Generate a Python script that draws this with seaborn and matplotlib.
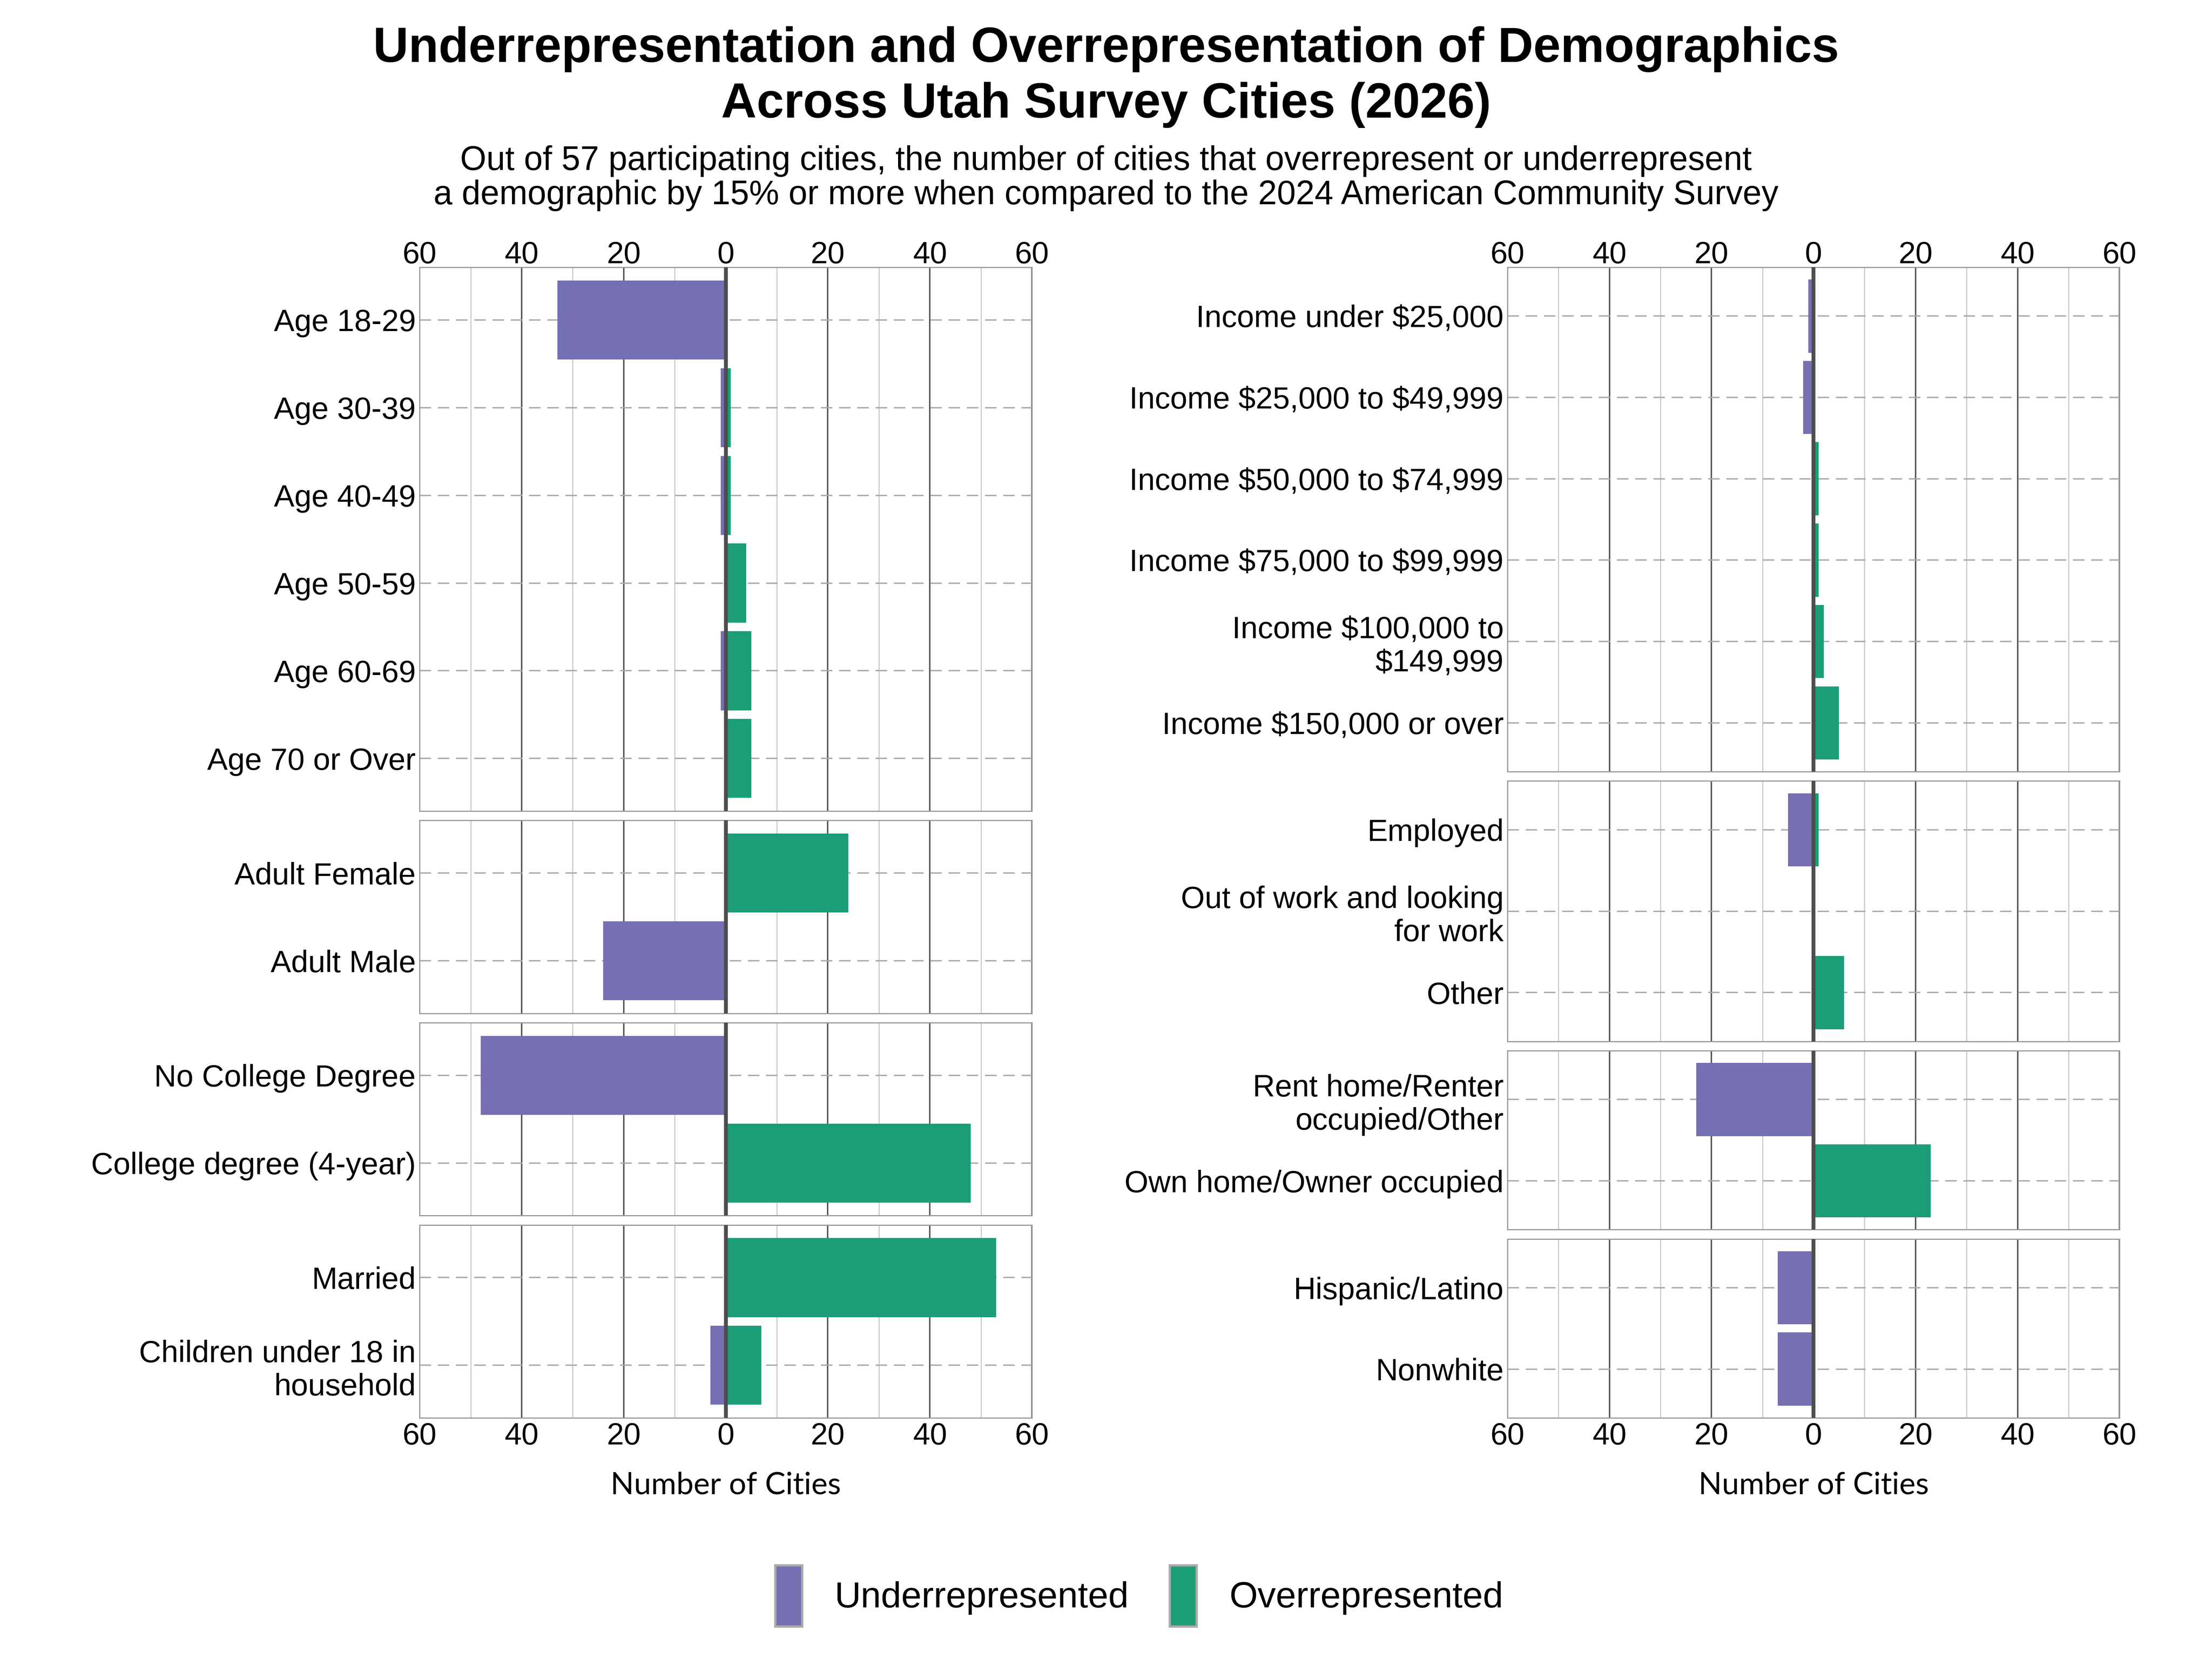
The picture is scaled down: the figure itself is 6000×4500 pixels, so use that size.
import numpy as np
import pandas as pd
import matplotlib
matplotlib.use("Agg")
import matplotlib.pyplot as plt
import seaborn as sns
from matplotlib.patches import Patch
from matplotlib.ticker import MultipleLocator, FixedLocator, FixedFormatter

sns.set_theme(style="white")
plt.rcParams["font.family"] = ["Liberation Sans", "DejaVu Sans"]
plt.rcParams["lines.scale_dashes"] = False
plt.rcParams["text.parse_math"] = False
plt.rcParams["text.color"] = "black"
plt.rcParams["axes.labelcolor"] = "black"
plt.rcParams["xtick.color"] = "black"
plt.rcParams["ytick.color"] = "black"

# ---------------- data ----------------
age_cats = ["Age 18-29", "Age 30-39", "Age 40-49", "Age 50-59", "Age 60-69", "Age 70 or Over"]
age_under = [33, 1, 1, 0, 1, 0]
age_over = [0, 1, 1, 4, 5, 5]

sex_cats = ["Adult Female", "Adult Male"]
sex_under = [0, 24]
sex_over = [24, 0]

edu_cats = ["No College Degree", "College degree (4-year)"]
edu_under = [48, 0]
edu_over = [0, 48]

hh_cats = ["Married", "Children under 18 in\nhousehold"]
hh_under = [0, 3]
hh_over = [53, 7]

inc_cats = ["Income under $25,000", "Income $25,000 to $49,999", "Income $50,000 to $74,999",
            "Income $75,000 to $99,999", "Income $100,000 to\n$149,999", "Income $150,000 or over"]
inc_under = [1, 2, 0, 0, 0, 0]
inc_over = [0, 0, 1, 1, 2, 5]

emp_cats = ["Employed", "Out of work and looking\nfor work", "Other"]
emp_under = [5, 0, 0]
emp_over = [1, 0, 6]

home_cats = ["Rent home/Renter\noccupied/Other", "Own home/Owner occupied"]
home_under = [23, 0]
home_over = [0, 23]

eth_cats = ["Hispanic/Latino", "Nonwhite"]
eth_under = [7, 7]
eth_over = [0, 0]

series_names = ["Underrepresented", "Overrepresented"]
series_colors = ["#7570B3", "#1B9E77"]
x_ticks = [-60, -40, -20, 0, 20, 40, 60]
x_tick_labels = ["60", "40", "20", "0", "20", "40", "60"]

title = "Underrepresentation and Overrepresentation of Demographics\nAcross Utah Survey Cities (2026)"
subtitle = ("Out of 57 participating cities, the number of cities that overrepresent or underrepresent\n"
            "a demographic by 15% or more when compared to the 2024 American Community Survey")
x_label = "Number of Cities"

left_panels = [(age_cats, age_under, age_over), (sex_cats, sex_under, sex_over),
               (edu_cats, edu_under, edu_over), (hh_cats, hh_under, hh_over)]
right_panels = [(inc_cats, inc_under, inc_over), (emp_cats, emp_under, emp_over),
                (home_cats, home_under, home_over), (eth_cats, eth_under, eth_over)]

# ---------------- figure ----------------
fig = plt.figure(figsize=(16, 12), dpi=375)
fig.patch.set_facecolor("white")

TOP, BOTTOM, GAP = 0.8389, 0.1453, 0.0056
columns = [(0.1897, 0.4665, left_panels), (0.6815, 0.9582, right_panels)]
FS = 16

for x0, x1, panels in columns:
    units = [len(p[0]) + 0.2 for p in panels]
    unit = (TOP - BOTTOM - GAP * (len(panels) - 1)) / sum(units)
    ytop = TOP
    for i, (cats, under, over) in enumerate(panels):
        h = units[i] * unit
        ax = fig.add_axes([x0, ytop - h, x1 - x0, h])
        ytop -= h + GAP
        df = pd.DataFrame({
            "category": cats * 2,
            "value": [-v for v in under] + list(over),
            "series": [series_names[0]] * len(cats) + [series_names[1]] * len(cats),
        })
        for s, c in zip(series_names, series_colors):
            sns.barplot(data=df[df["series"] == s], x="value", y="category", order=cats,
                        color=c, width=0.9, errorbar=None, orient="h", linewidth=0,
                        saturation=1, ax=ax)
        n = len(cats)
        ax.set_ylim(n - 1 + 0.6, -0.6)
        ax.set_xlim(-60, 60)
        ax.xaxis.set_major_locator(FixedLocator(x_ticks))
        ax.xaxis.set_major_formatter(FixedFormatter(x_tick_labels))
        ax.xaxis.set_minor_locator(MultipleLocator(10))
        ax.set_axisbelow(True)
        ax.xaxis.grid(True, which="major", color="#555555", lw=0.75)
        ax.xaxis.grid(True, which="minor", color="#c4c4c4", lw=0.5)
        ax.yaxis.grid(True, which="major", color="#a8a8a8", lw=0.7, linestyle=(0, (6, 3.5)))
        ax.axvline(0, color="#4d4d4d", lw=2.0, zorder=4)
        for sp in ax.spines.values():
            sp.set_color("#999999")
            sp.set_linewidth(0.6)
        ax.set_ylabel("")
        ax.set_xlabel("")
        ax.tick_params(axis="y", length=0, pad=2, labelsize=FS, labelcolor="black")
        ax.tick_params(axis="x", which="both", length=0, labelsize=FS, labelcolor="black")
        if i == 0:
            ax.tick_params(axis="x", top=True, labeltop=True, bottom=False, labelbottom=False, pad=-1.2)
        elif i == len(panels) - 1:
            ax.tick_params(axis="x", top=False, labeltop=False, bottom=True, labelbottom=True, pad=2)
            ax.set_xlabel(x_label, fontsize=16, family=["Lato", "DejaVu Sans"], color="black")
            ax.xaxis.set_label_coords(0.5, (0.1046 - (ytop + GAP)) / h)
            ax.xaxis.label.set_va("center")
        else:
            ax.tick_params(axis="x", labeltop=False, labelbottom=False)

fig.text(0.5, 0.9535, title, ha="center", va="center", fontsize=25.6, fontweight="bold",
         linespacing=1.27, color="black")
fig.text(0.5, 0.8925, subtitle, ha="center", va="center", fontsize=17.6, linespacing=1.1,
         color="black")

handles = [Patch(facecolor=c, edgecolor="#aaaaaa", linewidth=1.2) for c in series_colors]
fig.legend(handles, series_names, loc="center", bbox_to_anchor=(0.515, 0.038), ncol=2,
           frameon=False, fontsize=19, handlelength=0.74, handleheight=2.2,
           handletextpad=0.89, columnspacing=1.12, labelcolor="black")

fig.savefig("out.png", dpi=375, facecolor="white")
